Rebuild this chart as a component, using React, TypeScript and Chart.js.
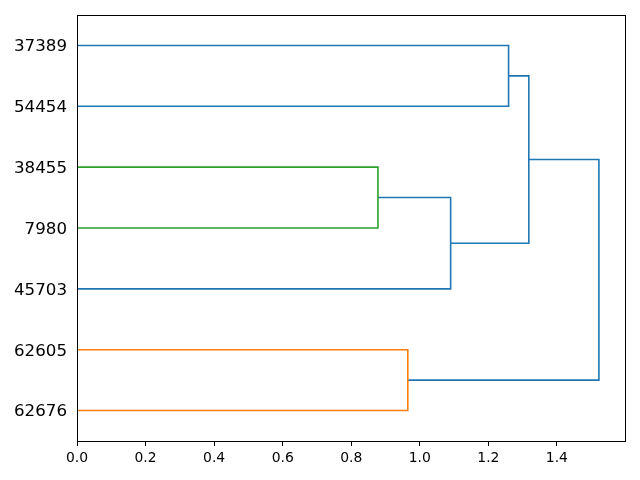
import React, { useEffect, useRef } from "react";
import { Chart, registerables } from "chart.js";

Chart.register(...registerables);

// Leaves, bottom to top
const leafLabels = ["62676", "62605", "45703", "7980", "38455", "54454", "37389"];
const leafPositions = [5, 15, 25, 35, 45, 55, 65];

// Links (scipy-like icoord / dcoord)
const linkY = [
  [55, 55, 65, 65],
  [35, 35, 45, 45],
  [25, 25, 40, 40],
  [32.5, 32.5, 60, 60],
  [5, 5, 15, 15],
  [10, 10, 46.25, 46.25],
];
const linkX = [
  [0, 1.259, 1.259, 0],
  [0, 0.878, 0.878, 0],
  [0, 1.09, 1.09, 0.878],
  [1.09, 1.318, 1.318, 1.259],
  [0, 0.965, 0.965, 0],
  [0.965, 1.5225, 1.5225, 1.318],
];
const linkColors = ["#1f77b4", "#2ca02c", "#1f77b4", "#1f77b4", "#ff7f0e", "#1f77b4"];

const xTicks = [0, 0.2, 0.4, 0.6, 0.8, 1.0, 1.2, 1.4];
const xMax = 1.5225 * 1.05;
const yMax = 70;

const boxPlugin = {
  id: "boxPlugin",
  afterDraw(chart: any) {
    const { ctx, chartArea } = chart;
    const l = Math.round(chartArea.left) + 0.5;
    const t = Math.round(chartArea.top) + 0.5;
    const r = Math.round(chartArea.right) + 0.5;
    const b = Math.round(chartArea.bottom) + 0.5;
    ctx.save();
    ctx.strokeStyle = "#000";
    ctx.lineWidth = 1;
    ctx.strokeRect(l, t, r - l, b - t);
    ctx.restore();
  },
};

export default function App() {
  const ref = useRef<HTMLCanvasElement>(null);

  useEffect(() => {
    if (!ref.current) return;
    const datasets = linkY.map((ys, i) => ({
      data: ys.map((y, j) => ({ x: linkX[i][j], y })),
      showLine: true,
      borderColor: linkColors[i],
      backgroundColor: linkColors[i],
      borderWidth: 1.6,
      pointRadius: 0,
      pointHoverRadius: 0,
      fill: false,
      tension: 0,
      clip: false as any,
    }));
    const chart = new Chart(ref.current, {
      type: "scatter",
      data: { datasets },
      options: {
        animation: false,
        responsive: false,
        maintainAspectRatio: false,
        events: [],
        layout: { padding: { top: 15, right: 15, left: 0, bottom: 0 } },
        plugins: { legend: { display: false }, tooltip: { enabled: false } },
        scales: {
          x: {
            type: "linear",
            min: 0,
            max: xMax,
            afterBuildTicks: (s: any) => {
              s.ticks = xTicks.map((v) => ({ value: v }));
            },
            afterFit: (s: any) => {
              s.height = 39;
              s.paddingLeft = 0;
              s.paddingRight = 0;
            },
            ticks: {
              color: "#000",
              font: { family: "DejaVu Sans", size: 13.9 },
              padding: 4,
              maxRotation: 0,
              autoSkip: false,
              callback: (v: any) => Number(v).toFixed(1),
            },
            grid: {
              drawOnChartArea: false,
              drawTicks: true,
              tickLength: 5,
              color: "#000",
              lineWidth: 1,
            },
            border: { display: false },
          },
          y: {
            type: "linear",
            min: 0,
            max: yMax,
            afterBuildTicks: (s: any) => {
              s.ticks = leafPositions.map((v) => ({ value: v }));
            },
            afterFit: (s: any) => {
              s.width = 77;
              s.paddingTop = 0;
              s.paddingBottom = 0;
            },
            ticks: {
              color: "#000",
              font: { family: "DejaVu Sans", size: 16.67 },
              padding: 10,
              labelOffset: 1.5,
              autoSkip: false,
              callback: (v: any) => {
                const idx = leafPositions.indexOf(Number(v));
                return idx >= 0 ? leafLabels[idx] : "";
              },
            },
            grid: { drawOnChartArea: false, drawTicks: false, color: "#000" },
            border: { display: false },
          },
        },
      },
      plugins: [boxPlugin],
    });
    return () => chart.destroy();
  }, []);

  return (
    <div style={{ position: "fixed", left: 0, top: 0, width: 640, height: 480, background: "#fff" }}>
      <canvas ref={ref} width={640} height={480} />
    </div>
  );
}
